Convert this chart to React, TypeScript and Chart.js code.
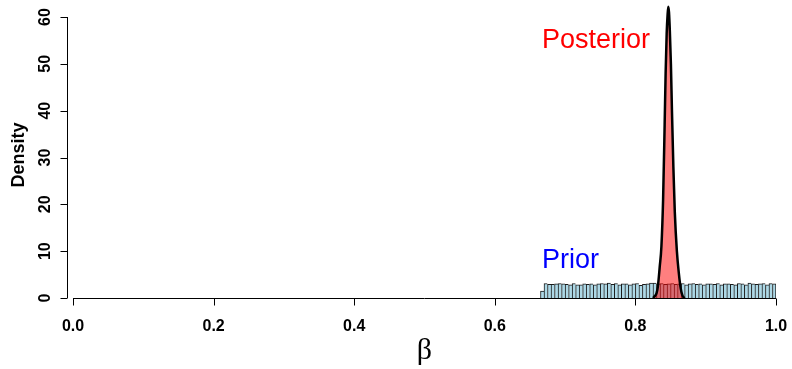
import React, { useEffect, useRef } from "react";
import { Chart, registerables } from "chart.js";

Chart.register(...registerables);

// Prior histogram: bins of width 0.005 starting at 0.665
const priorBreakStart = 0.665;
const priorBinWidth = 0.005;
const priorDensity = [
  1.5, 3.1, 2.9, 2.9, 3.0, 3.1, 3.0, 2.9, 2.8, 3.1,
  2.8, 2.8, 3.0, 2.9, 3.0, 2.8, 3.0, 3.1, 3.0, 3.2,
  2.9, 3.1, 2.8, 3.0, 3.0, 2.8, 3.0, 3.1, 2.7, 2.9,
  3.0, 3.2, 3.2, 3.0, 3.1, 2.9, 3.0, 3.1, 2.9, 3.0,
  3.1, 2.8, 3.0, 3.1, 2.9, 3.0, 2.8, 3.0, 3.0, 2.9,
  3.1, 2.8, 3.0, 3.0, 2.9, 2.8, 3.1, 3.0, 2.8, 3.2,
  3.0, 2.9, 3.0, 3.1, 2.8, 3.1, 3.0,
];

// Posterior density curve
const posteriorBeta = [
  0.825, 0.827, 0.830, 0.832, 0.8345, 0.837, 0.8394, 0.8416, 0.843, 0.8445,
  0.8458, 0.8468, 0.8478, 0.849, 0.8505, 0.852, 0.854, 0.856, 0.859, 0.862,
  0.8645, 0.867, 0.870,
];
const posteriorDensity = [
  0, 0.3, 1.0, 2.5, 6.5, 11, 21, 37, 48, 56.5,
  60.5, 62.2, 61, 57, 50, 40, 28, 18.5, 10, 5,
  2, 0.5, 0,
];

const xTicks = [0, 0.2, 0.4, 0.6, 0.8, 1.0];
const xTickLabels = ["0.0", "0.2", "0.4", "0.6", "0.8", "1.0"];
const yTicks = [0, 10, 20, 30, 40, 50, 60];
const yTickLabels = ["0", "10", "20", "30", "40", "50", "60"];

const SANS = "'Liberation Sans', Arial, sans-serif";

const rAxesPlugin = {
  id: "rAxes",
  afterDraw(chart: any) {
    const ctx = chart.ctx;
    const xs = chart.scales.x;
    const ys = chart.scales.y;
    const y0 = ys.getPixelForValue(0);
    ctx.save();
    ctx.strokeStyle = "#000";
    ctx.fillStyle = "#000";
    ctx.lineWidth = 1;

    // x axis
    const xa = xs.getPixelForValue(xTicks[0]);
    const xb = xs.getPixelForValue(xTicks[xTicks.length - 1]);
    const yLine = Math.round(y0) + 0.5;
    ctx.beginPath();
    ctx.moveTo(xa, yLine);
    ctx.lineTo(xb, yLine);
    xTicks.forEach((t) => {
      const px = Math.round(xs.getPixelForValue(t)) + 0.5;
      ctx.moveTo(px, yLine);
      ctx.lineTo(px, yLine + 7);
    });
    ctx.stroke();
    ctx.font = `bold 16px ${SANS}`;
    ctx.textAlign = "center";
    ctx.textBaseline = "alphabetic";
    xTicks.forEach((t, i) => {
      ctx.fillText(xTickLabels[i], xs.getPixelForValue(t), 331);
    });

    // y axis
    const axX = 67.5;
    const ya = ys.getPixelForValue(yTicks[0]);
    const yb = ys.getPixelForValue(yTicks[yTicks.length - 1]);
    ctx.beginPath();
    ctx.moveTo(axX, ya);
    ctx.lineTo(axX, yb);
    yTicks.forEach((t) => {
      const py = Math.round(ys.getPixelForValue(t)) + 0.5;
      ctx.moveTo(axX, py);
      ctx.lineTo(axX - 7, py);
    });
    ctx.stroke();
    yTicks.forEach((t, i) => {
      const py = ys.getPixelForValue(t);
      ctx.save();
      ctx.translate(50, py);
      ctx.rotate(-Math.PI / 2);
      ctx.textAlign = "center";
      ctx.fillText(yTickLabels[i], 0, 0);
      ctx.restore();
    });

    // axis titles
    ctx.save();
    ctx.font = `bold 18px ${SANS}`;
    ctx.translate(24, 155);
    ctx.rotate(-Math.PI / 2);
    ctx.textAlign = "center";
    ctx.fillText("Density", 0, 0);
    ctx.restore();

    ctx.font = "30px 'Liberation Serif', 'DejaVu Serif', serif";
    ctx.textAlign = "center";
    ctx.fillText("β", xs.getPixelForValue(0.5), 359);

    // annotations
    ctx.font = `27px ${SANS}`;
    ctx.textAlign = "left";
    ctx.fillStyle = "#ff0000";
    ctx.fillText("Posterior", xs.getPixelForValue(0.667), ys.getPixelForValue(53.3));
    ctx.fillStyle = "#0000ff";
    ctx.fillText("Prior", xs.getPixelForValue(0.667), ys.getPixelForValue(6.5));
    ctx.restore();
  },
};

export default function App() {
  const canvasRef = useRef<HTMLCanvasElement | null>(null);

  useEffect(() => {
    document.body.style.margin = "0";
    const canvas = canvasRef.current;
    if (!canvas) return;
    const priorData = priorDensity.map((d, i) => ({
      x: priorBreakStart + priorBinWidth * (i + 0.5),
      y: d,
    }));
    const postData = posteriorBeta.map((b, i) => ({ x: b, y: posteriorDensity[i] }));
    const chart = new Chart(canvas, {
      type: "bar",
      data: {
        datasets: [
          {
            type: "bar",
            label: "Prior",
            data: priorData as any,
            backgroundColor: "#ADD8E6",
            borderColor: "#1a1a1a",
            borderWidth: (c: any) =>
              c.dataIndex === priorDensity.length - 1
                ? { top: 1, left: 1, right: 1, bottom: 0 }
                : { top: 1, left: 1, right: 0, bottom: 0 },
            barPercentage: 1,
            categoryPercentage: 1,
            order: 2,
          } as any,
          {
            type: "line",
            label: "Posterior",
            data: postData as any,
            borderColor: "#000",
            borderWidth: 2.5,
            backgroundColor: "rgba(255,0,0,0.5)",
            fill: "origin",
            pointRadius: 0,
            cubicInterpolationMode: "monotone",
            order: 1,
            clip: false,
          } as any,
        ],
      },
      options: {
        responsive: false,
        animation: false,
        events: [],
        layout: { padding: { left: 73, right: 16, top: 5.3, bottom: 71 } },
        plugins: { legend: { display: false }, tooltip: { enabled: false } },
        scales: {
          x: { type: "linear", min: 0, max: 1, display: false, offset: false, grid: { offset: false } },
          y: { type: "linear", min: 0, max: 62.5, display: false },
        },
      },
      plugins: [rAxesPlugin],
    });
    return () => chart.destroy();
  }, []);

  return (
    <div style={{ position: "fixed", left: 0, top: 0, width: 792, height: 369, background: "#fff" }}>
      <canvas ref={canvasRef} width={792} height={369} />
    </div>
  );
}
